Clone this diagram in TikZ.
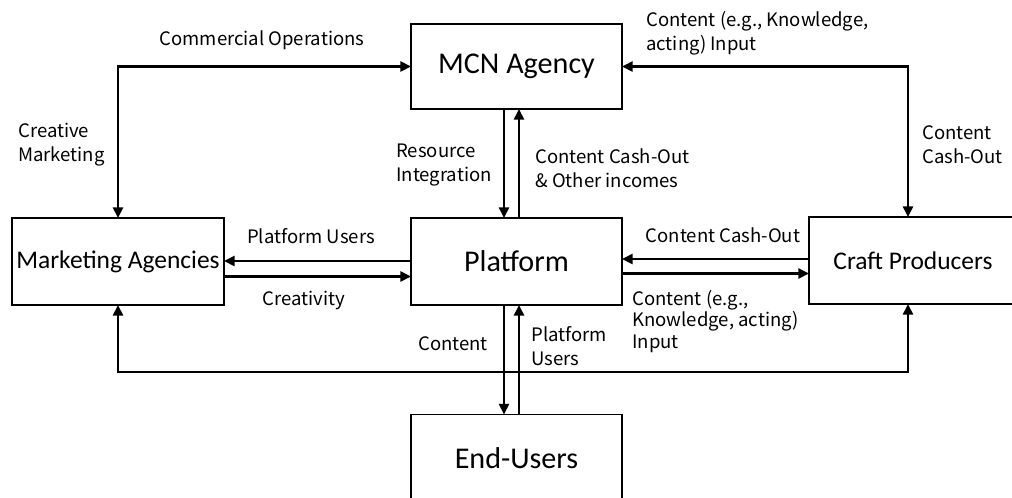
\documentclass[tikz,border=0pt]{standalone}
\usepackage{fontspec}
\setmainfont{Noto Sans CJK SC}
\newfontfamily\boxfont{Carlito}
\usetikzlibrary{arrows.meta}

\tikzset{
  box/.style={draw, line width=0.8pt, outer sep=0pt, inner sep=0pt,
              font=\boxfont\fontsize{22.6}{24}\selectfont},
  smallbox/.style={box, font=\boxfont\fontsize{19.1}{22}\selectfont},
  flow/.style={line width=2.2pt, -{Triangle[length=8pt,width=7.5pt]}},
  twoway/.style={line width=2.2pt, {Triangle[length=8pt,width=7.5pt]}-{Triangle[length=8pt,width=7.5pt]}},
  lbl/.style={font=\fontsize{13.9}{18}\selectfont, inner sep=0pt, align=left},
}

\begin{document}
\begin{tikzpicture}[x=0.75pt,y=-0.75pt]
\useasboundingbox (0,0) rectangle (1012,497);
\clip (0,0) rectangle (1012,497);

% actors
\node[box, minimum width=158.25pt, minimum height=63.75pt] (mcn)  at (516.5,66.5)  {MCN Agency};
\node[box, minimum width=158.25pt, minimum height=65.25pt] (plat) at (516.5,261.5) {Platform};
\node[smallbox, minimum width=159pt, minimum height=65.25pt] (ma) at (118,261.5)   {Marketing Agencies};
\node[smallbox, minimum width=156pt, minimum height=65.25pt] (cp) at (913,260.5)   {Craft Producers};
\node[box, minimum width=158.25pt, minimum height=66pt]    (eu)   at (516.5,458.5) {End-Users};

% guide coordinates for the parallel connectors
\coordinate (xa) at (504,0);
\coordinate (xb) at (519,0);
\coordinate (xr) at (908,0);
\coordinate (yb) at (0,372);
\coordinate (ml) at (0,261);
\coordinate (mr) at (0,276.5);
\coordinate (cl) at (0,259);
\coordinate (cr) at (0,273.5);

% outer loops
\draw[twoway] (ma.north) |- (mcn.west);
\draw[twoway] (cp.north -| xr) |- (mcn.east);
\draw[twoway] (ma.south) |- (yb -| xr) -- (cp.south -| xr);

% MCN <-> Platform
\draw[flow] (mcn.south -| xa) -- (plat.north -| xa);
\draw[flow] (plat.north -| xb) -- (mcn.south -| xb);

% Platform <-> End-Users
\draw[flow] (plat.south -| xa) -- (eu.north -| xa);
\draw[flow] (eu.north -| xb) -- (plat.south -| xb);

% Platform <-> Marketing Agencies
\draw[flow] (plat.west |- ml) -- (ma.east |- ml);
\draw[flow] (ma.east |- mr) -- (plat.west |- mr);

% Platform <-> Craft Producers
\draw[flow] (cp.west |- cl) -- (plat.east |- cl);
\draw[flow] (plat.east |- cr) -- (cp.west |- cr);

% labels
\node[lbl] (tco) at (262,40) {Commercial Operations};
\node[lbl, anchor=west] (tcm) at (18,145) {Creative\\Marketing};
\node[lbl, anchor=west] (tri) at (396,165) {Resource\\Integration};
\node[lbl, anchor=west] (tcc) at (535,168) {Content Cash-Out\\\& Other incomes};
\node[lbl, anchor=west] (tci) at (646,33.5) {Content (e.g., Knowledge,\\acting) Input};
\node[lbl, anchor=west] (tcr) at (922,145) {Content\\Cash-Out};
\node[lbl] (tpu) at (311,236) {Platform Users};
\node[lbl] (tcv) at (304,300) {Creativity};
\node[lbl] (tcp) at (723,235) {Content Cash-Out};
\node[lbl, anchor=west, font=\fontsize{13.9}{16.2}\selectfont] (tck) at (632,321.5) {Content (e.g.,\\Knowledge, acting)\\Input};
\node[lbl] (tct) at (453,344) {Content};
\node[lbl, anchor=west] (tpe) at (531,346) {Platform\\Users};
\end{tikzpicture}
\end{document}
